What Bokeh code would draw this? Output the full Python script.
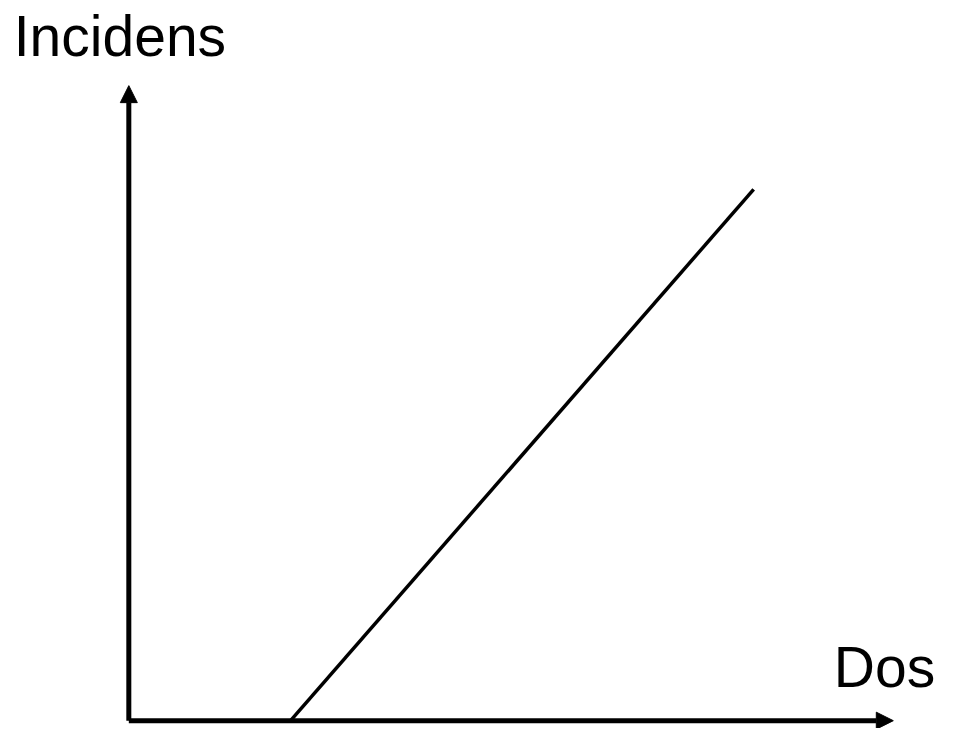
from bokeh.plotting import figure
from bokeh.models import Arrow, NormalHead, Range1d
from bokeh.core.properties import value
from bokeh.embed import file_html
from bokeh.resources import INLINE

# --- data (schematic dose-response with threshold) ---
axis_origin = [0.0, 0.0]
dose_axis_end = 7.775          # end of the "Dos" axis arrow
incidence_axis_end = 6.49      # end of the "Incidens" axis arrow
line_dose = [1.645, 6.355]     # threshold dose, then upper end
line_incidence = [0.0, 5.43]
x_label = "Dos"
y_label = "Incidens"
x_label_pos = [7.17, 0.545]
y_label_pos = [-1.17, 7.0]

p = figure(width=940, height=728, output_backend="svg", toolbar_location=None,
           x_range=Range1d(-1.305, 8.255), y_range=Range1d(-0.08, 7.36),
           min_border=0, x_axis_location=None, y_axis_location=None)
p.grid.visible = False
p.outline_line_color = None
p.background_fill_color = "white"
p.border_fill_color = "white"

# axes drawn as arrows
p.add_layout(Arrow(end=NormalHead(size=17, fill_color="black", line_color="black", line_width=1),
                   x_start=axis_origin[0], y_start=axis_origin[1],
                   x_end=axis_origin[0], y_end=incidence_axis_end,
                   line_color="black", line_width=5))
p.add_layout(Arrow(end=NormalHead(size=17, fill_color="black", line_color="black", line_width=1),
                   x_start=axis_origin[0], y_start=axis_origin[1],
                   x_end=dose_axis_end, y_end=axis_origin[1],
                   line_color="black", line_width=5))

# dose-response line
p.line(line_dose, line_incidence, line_color="black", line_width=3.5)

# labels
p.text(x=[y_label_pos[0]], y=[y_label_pos[1]], text=[y_label],
       text_font=value("Liberation Sans"), text_font_size="57px",
       text_color="black", text_baseline="alphabetic", text_align="left")
p.text(x=[x_label_pos[0]], y=[x_label_pos[1]], text=[x_label],
       text_font=value("Liberation Sans"), text_font_size="57px",
       text_color="black", text_baseline="alphabetic", text_align="left")

open("out.html", "w").write(file_html(p, INLINE))
